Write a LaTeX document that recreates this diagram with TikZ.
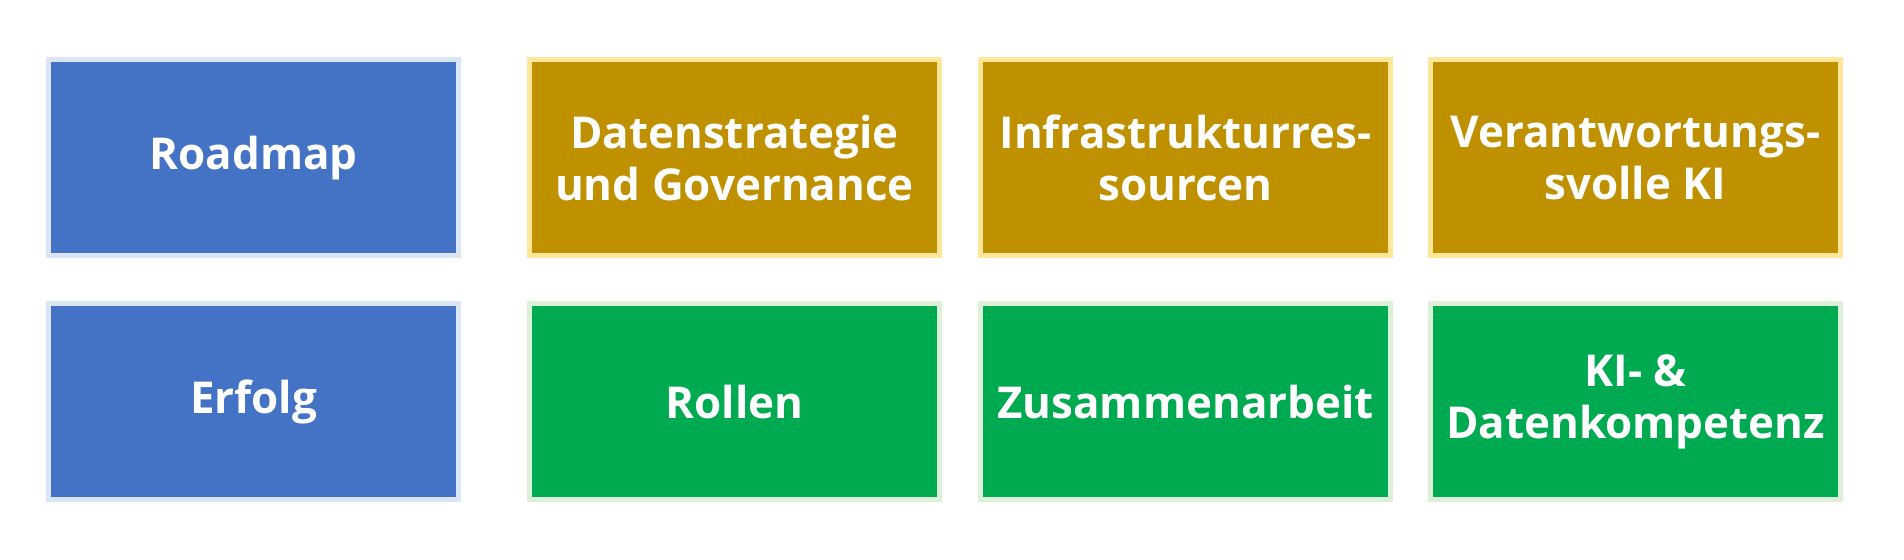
\documentclass[tikz,border=0pt]{standalone}
\usepackage{fontspec}
\setmainfont{Open Sans}
\usetikzlibrary{positioning}

\definecolor{roadblue}{HTML}{4472C4}
\definecolor{roadblueedge}{HTML}{DAE5F5}
\definecolor{govgold}{HTML}{BF9000}
\definecolor{govgoldedge}{HTML}{FFE699}
\definecolor{teamgreen}{HTML}{00AA50}
\definecolor{teamgreenedge}{HTML}{DDF0D8}

\tikzset{
  tile/.style={rectangle, minimum width=4.1cm, minimum height=1.96cm, line width=0.05cm,
    align=center, text=white, font=\fontsize{12.5}{15}\selectfont\bfseries, inner sep=0pt},
  bluetile/.style={tile, fill=roadblue, draw=roadblueedge},
  goldtile/.style={tile, fill=govgold, draw=govgoldedge},
  greentile/.style={tile, fill=teamgreen, draw=teamgreenedge}
}

\begin{document}
\begin{tikzpicture}
\useasboundingbox (0,0) rectangle (19.04,5.6);

\node[bluetile] (roadmap) at (2.535,4.02) {Roadmap};
\node[goldtile, right=0.66cm of roadmap] (strategy) {Datenstrategie\\und Governance};
\node[goldtile, right=0.36cm of strategy] (infra) {Infrastrukturres-\\sourcen};
\node[goldtile, right=0.35cm of infra] (responsible) {Verantwortungs-\\svolle KI};

\node[bluetile, below=0.43cm of roadmap] (success) {Erfolg};
\node[greentile, below=0.43cm of strategy] (roles) {Rollen};
\node[greentile, below=0.43cm of infra] (teamwork) {Zusammenarbeit};
\node[greentile, below=0.43cm of responsible] (literacy) {KI- \&\\Datenkompetenz};

\end{tikzpicture}
\end{document}
